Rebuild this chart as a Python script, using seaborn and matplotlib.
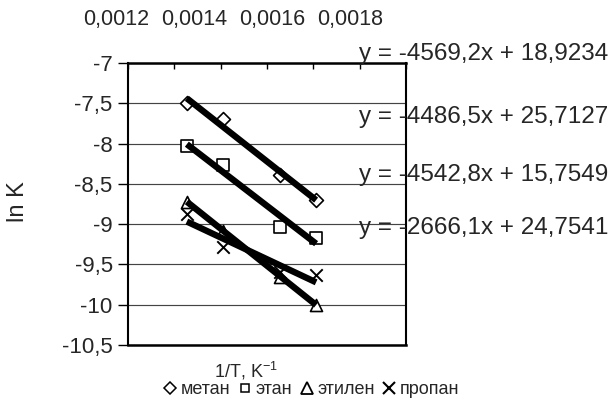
import matplotlib
matplotlib.use("Agg")
import matplotlib.pyplot as plt
from matplotlib.lines import Line2D
import numpy as np
import pandas as pd
import seaborn as sns

# ---- data ----
inv_T = [0.001327, 0.001405, 0.001528, 0.001606]
metan = [-7.50, -7.69, -8.39, -8.70]
etan = [-8.03, -8.27, -9.03, -9.17]
etilen = [-8.72, -9.08, -9.65, -10.00]
propan = [-8.87, -9.28, -9.60, -9.63]
series_names = ["метан", "этан", "этилен", "пропан"]
top_tick_labels = ["0,0012", "0,0014", "0,0016", "0,0018"]
y_ticks = [-7, -7.5, -8, -8.5, -9, -9.5, -10, -10.5]
y_tick_labels = ["-7", "-7,5", "-8", "-8,5", "-9", "-9,5", "-10", "-10,5"]
equations = ["y = -4569,2x + 18,9234", "y = -4486,5x + 25,7127",
             "y = -4542,8x + 15,7549", "y = -2666,1x + 24,7541"]

sns.set_theme(style="white")
plt.rcParams["font.family"] = ["Liberation Sans", "DejaVu Sans"]
plt.rcParams["mathtext.fontset"] = "custom"
plt.rcParams["mathtext.rm"] = "Liberation Sans"
plt.rcParams["mathtext.it"] = "Liberation Sans"

W, H = 613, 408
fig = plt.figure(figsize=(W / 100, H / 100), dpi=100)
fig.patch.set_facecolor("white")
L, R, T, B = 128, 406, 63, 345
ax = fig.add_axes([L / W, 1 - B / H, (R - L) / W, (B - T) / H])

FS_Y = 16
FS_EQ = 17.5
FS_TOP = 15.5
FS_LBL = 17
FS_X = 13
FS_LEG = 13

markers = ["D", "s", "^", "x"]
sizes = [50, 75, 75, 80]
all_vals = [metan, etan, etilen, propan]

for name, vals, m, s in zip(series_names, all_vals, markers, sizes):
    if m == "x":
        sns.scatterplot(x=inv_T, y=vals, marker=m, s=s, color="black",
                        linewidth=1.4, ax=ax, zorder=3)
    else:
        sns.scatterplot(x=inv_T, y=vals, marker=m, s=s, facecolor="white",
                        edgecolor="black", linewidth=1.2, ax=ax, zorder=3)
for vals in all_vals:
    sns.regplot(x=np.array(inv_T), y=np.array(vals), scatter=False, ci=None,
                color="black", line_kws={"linewidth": 4.6, "solid_capstyle": "butt"},
                ax=ax)
for ln in ax.lines:
    ln.set_zorder(4)

ax.set_xlim(0.0012, 0.0018)
ax.set_ylim(-10.5, -7)
ax.set_xticks(np.arange(0.0012, 0.00181, 0.0001))
ax.set_xticklabels([])
ax.xaxis.tick_top()
ax.tick_params(axis="x", which="both", direction="in", length=4, width=1,
               color="black", top=True, bottom=False, labeltop=False)
ax.set_yticks(y_ticks)
ax.set_yticklabels(y_tick_labels, fontsize=FS_Y)
ax.tick_params(axis="y", direction="out", length=7, width=1, color="black",
               left=True, pad=4)
ax.yaxis.grid(True, color="#444444", linewidth=0.85)
ax.xaxis.grid(False)
ax.set_xlabel("")
ax.set_ylabel("")
for side, sp in ax.spines.items():
    sp.set_visible(True)
    sp.set_color("black")
    sp.set_linewidth(1.8 if side in ("top", "bottom") else 1.5)

# top labels
for lab, px in zip(top_tick_labels, [116, 194, 272, 350]):
    fig.text(px / W, 1 - 20 / H, lab, ha="center", va="center", fontsize=FS_TOP)

# trendline equations
for eq, py in zip(equations, [54, 117, 175, 228]):
    fig.text(359 / W, 1 - py / H, eq, ha="left", va="center", fontsize=FS_EQ)

fig.text(18 / W, 1 - 202 / H, "ln K", rotation=90, ha="center", va="center", fontsize=FS_LBL)
fig.text(246 / W, 1 - 371 / H, r"1/T, K$^{-1}$", ha="center", va="center", fontsize=FS_X)

handles = [
    Line2D([], [], linestyle="none", marker="D", markersize=6, markerfacecolor="white",
           markeredgecolor="black", markeredgewidth=1.1),
    Line2D([], [], linestyle="none", marker="s", markersize=6, markerfacecolor="white",
           markeredgecolor="black", markeredgewidth=1.1),
    Line2D([], [], linestyle="none", marker="^", markersize=8, markerfacecolor="white",
           markeredgecolor="black", markeredgewidth=1.3),
    Line2D([], [], linestyle="none", marker="x", markersize=8, color="black",
           markeredgewidth=1.5),
]
fig.legend(handles, series_names, loc="center", bbox_to_anchor=(312 / W, 1 - 390 / H),
           ncol=4, frameon=False, fontsize=FS_LEG, handlelength=0.6, handletextpad=0.3,
           columnspacing=0.5, borderpad=0, borderaxespad=0)

fig.savefig("out.png", dpi=100, facecolor="white")
